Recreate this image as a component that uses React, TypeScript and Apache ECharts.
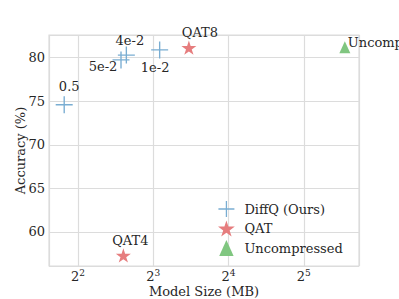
import React, { useEffect, useRef } from "react";
import * as echarts from "echarts";

const diffqLabels = ["0.5", "5e-2", "4e-2", "1e-2"];
const diffqSize = [3.52, 5.94, 6.24, 8.48];
const diffqAcc = [74.6, 79.75, 80.3, 80.9];

const qatLabels = ["QAT8", "QAT4"];
const qatSize = [11.1, 6.07];
const qatAcc = [81.15, 57.3];

const uncLabels = ["Uncompressed"];
const uncSize = [46.7];
const uncAcc = [81.2];

const labelOffsets: Record<string, number[]> = {
  "0.5": [5, -18],
  "5e-2": [-18, 6.5],
  "4e-2": [3.5, -15],
  "1e-2": [-4.5, 17.5],
  QAT8: [11, -15],
  QAT4: [7, -15],
  Uncompressed: [3, -5],
};

const FONT = "DejaVu Serif";
const FS = 13;
const TEXT = "#262626";
const GRID = "#dcdcdc";

const PLUS = "path://M-0.08,-1H0.08V-0.08H1V0.08H0.08V1H-0.08V0.08H-1V-0.08H-0.08Z";
const STAR =
  "path://M0,-1L0.2245,-0.309L0.951,-0.309L0.363,0.118L0.588,0.809L0,0.382L-0.588,0.809L-0.363,0.118L-0.951,-0.309L-0.2245,-0.309Z";
const TRI = "path://M0,-1L0.9,1L-0.9,1Z";

function buildData(sizes: number[], accs: number[], labels: string[]) {
  return sizes.map((s, i) => {
    const name = labels[i];
    const off = labelOffsets[name] || [0, 0];
    const left = name === "Uncompressed";
    return {
      value: [s, accs[i]],
      name,
      label: {
        show: true,
        position: "inside",
        offset: off,
        align: left ? "left" : "center",
        formatter: name,
        fontFamily: FONT,
        fontSize: FS,
        color: TEXT,
      },
    };
  });
}

export default function App() {
  const ref = useRef<HTMLDivElement>(null);
  useEffect(() => {
    if (!ref.current) return;
    const chart = echarts.init(ref.current, undefined, { renderer: "svg" });
    chart.setOption({
      animation: false,
      backgroundColor: "#ffffff",
      textStyle: { fontFamily: FONT, color: TEXT },
      grid: {
        left: 49,
        top: 35,
        right: 40,
        bottom: 33,
        show: true,
        borderColor: GRID,
        borderWidth: 1.2,
        backgroundColor: "transparent",
        containLabel: false,
        outerBoundsMode: "none",
      },
      xAxis: {
        type: "log",
        logBase: 2,
        min: 3.06,
        max: 53.2,
        name: "Model Size (MB)",
        nameLocation: "middle",
        nameGap: 18.5,
        nameMoveOverlap: false,
        nameTextStyle: { fontFamily: FONT, fontSize: FS, color: TEXT },
        axisLine: { show: false },
        axisTick: { show: false },
        splitLine: { show: true, lineStyle: { color: GRID, width: 1.2 } },
        axisLabel: {
          margin: 2,
          color: TEXT,
          fontFamily: FONT,
          formatter: (v: number) => {
            const e = Math.log2(v);
            const r = Math.round(e);
            if (Math.abs(e - r) > 0.01) return "";
            return "{b|2}{s|" + r + "}";
          },
          rich: {
            b: { fontSize: FS, fontFamily: FONT, color: TEXT, verticalAlign: "bottom", lineHeight: 15 },
            s: { fontSize: 9, fontFamily: FONT, color: TEXT, verticalAlign: "top", lineHeight: 9 },
          },
        },
      },
      yAxis: {
        type: "value",
        min: 56.09,
        max: 82.61,
        name: "Accuracy (%)",
        nameLocation: "middle",
        nameGap: 22,
        nameMoveOverlap: false,
        nameTextStyle: { fontFamily: FONT, fontSize: FS, color: TEXT },
        axisLine: { show: false },
        axisTick: { show: false },
        splitLine: { show: true, lineStyle: { color: GRID, width: 1.2 } },
        axisLabel: {
          margin: 4,
          fontSize: FS,
          color: TEXT,
          fontFamily: FONT,
          formatter: (v: number) => (Math.abs(v / 5 - Math.round(v / 5)) < 1e-6 ? String(v) : ""),
        },
      },
      legend: {
        orient: "vertical",
        left: 213,
        top: 196,
        itemWidth: 26,
        itemHeight: 16,
        itemGap: 3.5,
        textStyle: { fontFamily: FONT, fontSize: FS, color: TEXT },
        data: [
          { name: "DiffQ (Ours)", icon: PLUS },
          { name: "QAT", icon: STAR },
          { name: "Uncompressed", icon: TRI },
        ],
      },
      series: [
        {
          name: "DiffQ (Ours)",
          type: "scatter",
          symbol: PLUS,
          symbolSize: 17,
          itemStyle: { color: "#79add2", opacity: 1 },
          data: buildData(diffqSize, diffqAcc, diffqLabels),
        },
        {
          name: "QAT",
          type: "scatter",
          symbol: STAR,
          symbolSize: [15, 14.3],
          itemStyle: { color: "#e67d7e", opacity: 1 },
          data: buildData(qatSize, qatAcc, qatLabels),
        },
        {
          name: "Uncompressed",
          type: "scatter",
          symbol: TRI,
          symbolSize: [11, 12],
          itemStyle: { color: "#80c680", opacity: 1 },
          data: buildData(uncSize, uncAcc, uncLabels),
        },
      ],
    });
    return () => chart.dispose();
  }, []);
  return (
    <div
      ref={ref}
      style={{ position: "fixed", left: 0, top: 0, width: 399, height: 299 }}
    />
  );
}
